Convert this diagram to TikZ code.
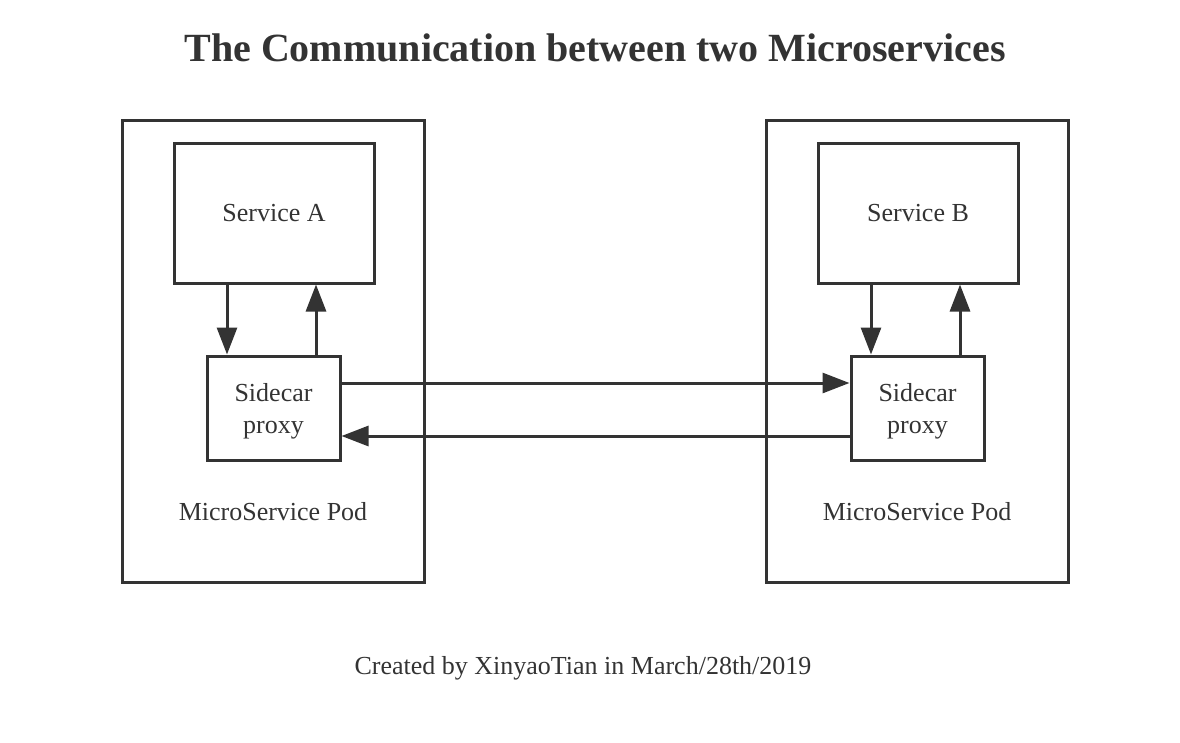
\documentclass[tikz,border=0pt]{standalone}
\usepackage{fontspec}
\setmainfont{Liberation Serif}
\usetikzlibrary{arrows.meta}
\definecolor{ink}{HTML}{333333}
\tikzset{
  box/.style={draw=ink, line width=3pt, rectangle, inner sep=0pt, text=ink, font=\fontsize{26}{32}\selectfont, align=center},
  lbl/.style={text=ink, font=\fontsize{26}{32}\selectfont, inner sep=0pt},
  arr/.style={draw=ink, line width=3pt, -{Triangle[length=27pt,width=20pt]}},
}
\begin{document}
\begin{tikzpicture}[x=1pt,y=-1pt]
\useasboundingbox (0,0) rectangle (1180,742);
\node[lbl, font=\fontsize{40}{48}\selectfont\bfseries] (title) at (595,48) {The Communication between two Microservices};
% left pod
\node[box, minimum width=302pt, minimum height=462pt] (poda) at (273,351) {};
\node[box, minimum width=200pt, minimum height=140pt] (sa) at (274,213) {Service A};
\node[box, minimum width=133pt, minimum height=104pt] (sca) at (273.5,408) {};
\node[lbl, align=center] (sta) at (273.5,411) {Sidecar\\proxy};
\node[lbl] (pla) at (273,512) {MicroService Pod};
% right pod
\node[box, minimum width=302pt, minimum height=462pt] (podb) at (917,351) {};
\node[box, minimum width=200pt, minimum height=140pt] (sb) at (918,213) {Service B};
\node[box, minimum width=133pt, minimum height=104pt] (scb) at (917.5,408) {};
\node[lbl, align=center] (stb) at (917.5,411) {Sidecar\\proxy};
\node[lbl] (plb) at (917,512) {MicroService Pod};
% footer
\node[lbl] (foot) at (583,668) {Created by XinyaoTian in March/28th/2019};
% guide coordinates
\coordinate (xa1) at (227,0);
\coordinate (xa2) at (316,0);
\coordinate (xb1) at (871,0);
\coordinate (xb2) at (960,0);
\coordinate (y1) at (0,383);
\coordinate (y2) at (0,436);
% arrows
\draw[arr] (sa.south -| xa1) -- (sca.north -| xa1);
\draw[arr] (sca.north -| xa2) -- (sa.south -| xa2);
\draw[arr] (sb.south -| xb1) -- (scb.north -| xb1);
\draw[arr] (scb.north -| xb2) -- (sb.south -| xb2);
\draw[arr] (sca.east |- y1) -- (scb.west |- y1);
\draw[arr] (scb.west |- y2) -- (sca.east |- y2);
\end{tikzpicture}
\end{document}
